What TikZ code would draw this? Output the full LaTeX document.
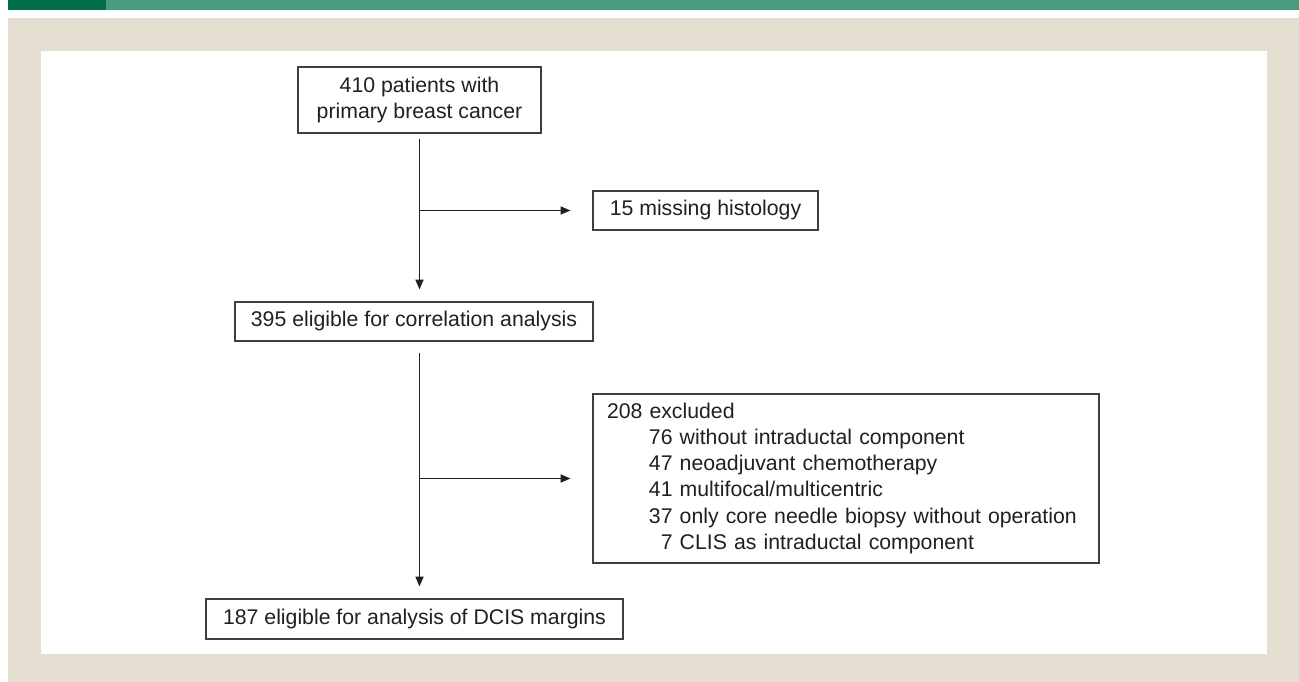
\documentclass[tikz,border=0pt]{standalone}
\usepackage{fontspec}
\setmainfont{Liberation Sans}
\usetikzlibrary{arrows.meta}
\definecolor{bardark}{HTML}{006E4A}
\definecolor{barlight}{HTML}{4A9B7E}
\definecolor{panelbg}{HTML}{E5DFD2}
\definecolor{inkline}{HTML}{404040}
\definecolor{inktext}{HTML}{231F20}
\tikzset{
  flowbox/.style={draw=inkline, line width=0.7pt, fill=white, inner sep=0pt,
    font=\fontsize{12.1}{14.8}\selectfont, text=inktext},
  flowarrow/.style={draw=inktext, line width=0.7pt, -{Triangle[length=5.5pt,width=4.6pt]}}
}
\begin{document}
\begin{tikzpicture}[x=0.02cm, y=-0.02cm]
  \useasboundingbox (0,0) rectangle (1299,682);
  % kop dan latar
  \fill[bardark] (8,0) rectangle (106,10);
  \fill[barlight] (106,0) rectangle (1299,10);
  \fill[panelbg] (8,18) rectangle (1299,682);
  \fill[white] (41,51) rectangle (1267,654);
  % kotak alur
  \node[flowbox, align=center, minimum width=243*0.02cm, minimum height=66*0.02cm]
    (patients) at (419.5,100) {410 patients with\\primary breast cancer};
  \node[flowbox, minimum width=225*0.02cm, minimum height=39*0.02cm] (missing) at (705.5,210.5)
    {15 missing histology};
  \node[flowbox, minimum width=358*0.02cm, minimum height=39*0.02cm] (eligible) at (414,321.5)
    {395 eligible for correlation analysis};
  \node[flowbox, minimum width=506*0.02cm, minimum height=169*0.02cm,
    text width=478*0.02cm, align=left] (excluded) at (846,478.5)
    {208 excluded\\
     \hspace*{0.84cm}76 without intraductal component\\
     \hspace*{0.84cm}47 neoadjuvant chemotherapy\\
     \hspace*{0.84cm}41 multifocal/multicentric\\
     \hspace*{0.84cm}37 only core needle biopsy without operation\\
     \hspace*{0.84cm}\phantom{0}7 CLIS as intraductal component};
  \node[flowbox, minimum width=417*0.02cm, minimum height=40*0.02cm] (dcis) at (414.5,619)
    {187 eligible for analysis of DCIS margins};
  % garis utama
  \draw[flowarrow, shorten <=5*0.02cm, shorten >=12*0.02cm]
    (patients.south) -- (patients.south |- eligible.north);
  \draw[flowarrow, shorten <=11*0.02cm, shorten >=12*0.02cm]
    (eligible.south -| patients.south) -- (dcis.north -| patients.south);
  % cabang keluar
  \coordinate (split1) at (patients.south |- missing.west);
  \coordinate (split2) at (patients.south |- excluded.west);
  \draw[flowarrow, shorten >=22*0.02cm] (split1) -- (missing.west);
  \draw[flowarrow, shorten >=22*0.02cm] (split2) -- (excluded.west);
\end{tikzpicture}
\end{document}
